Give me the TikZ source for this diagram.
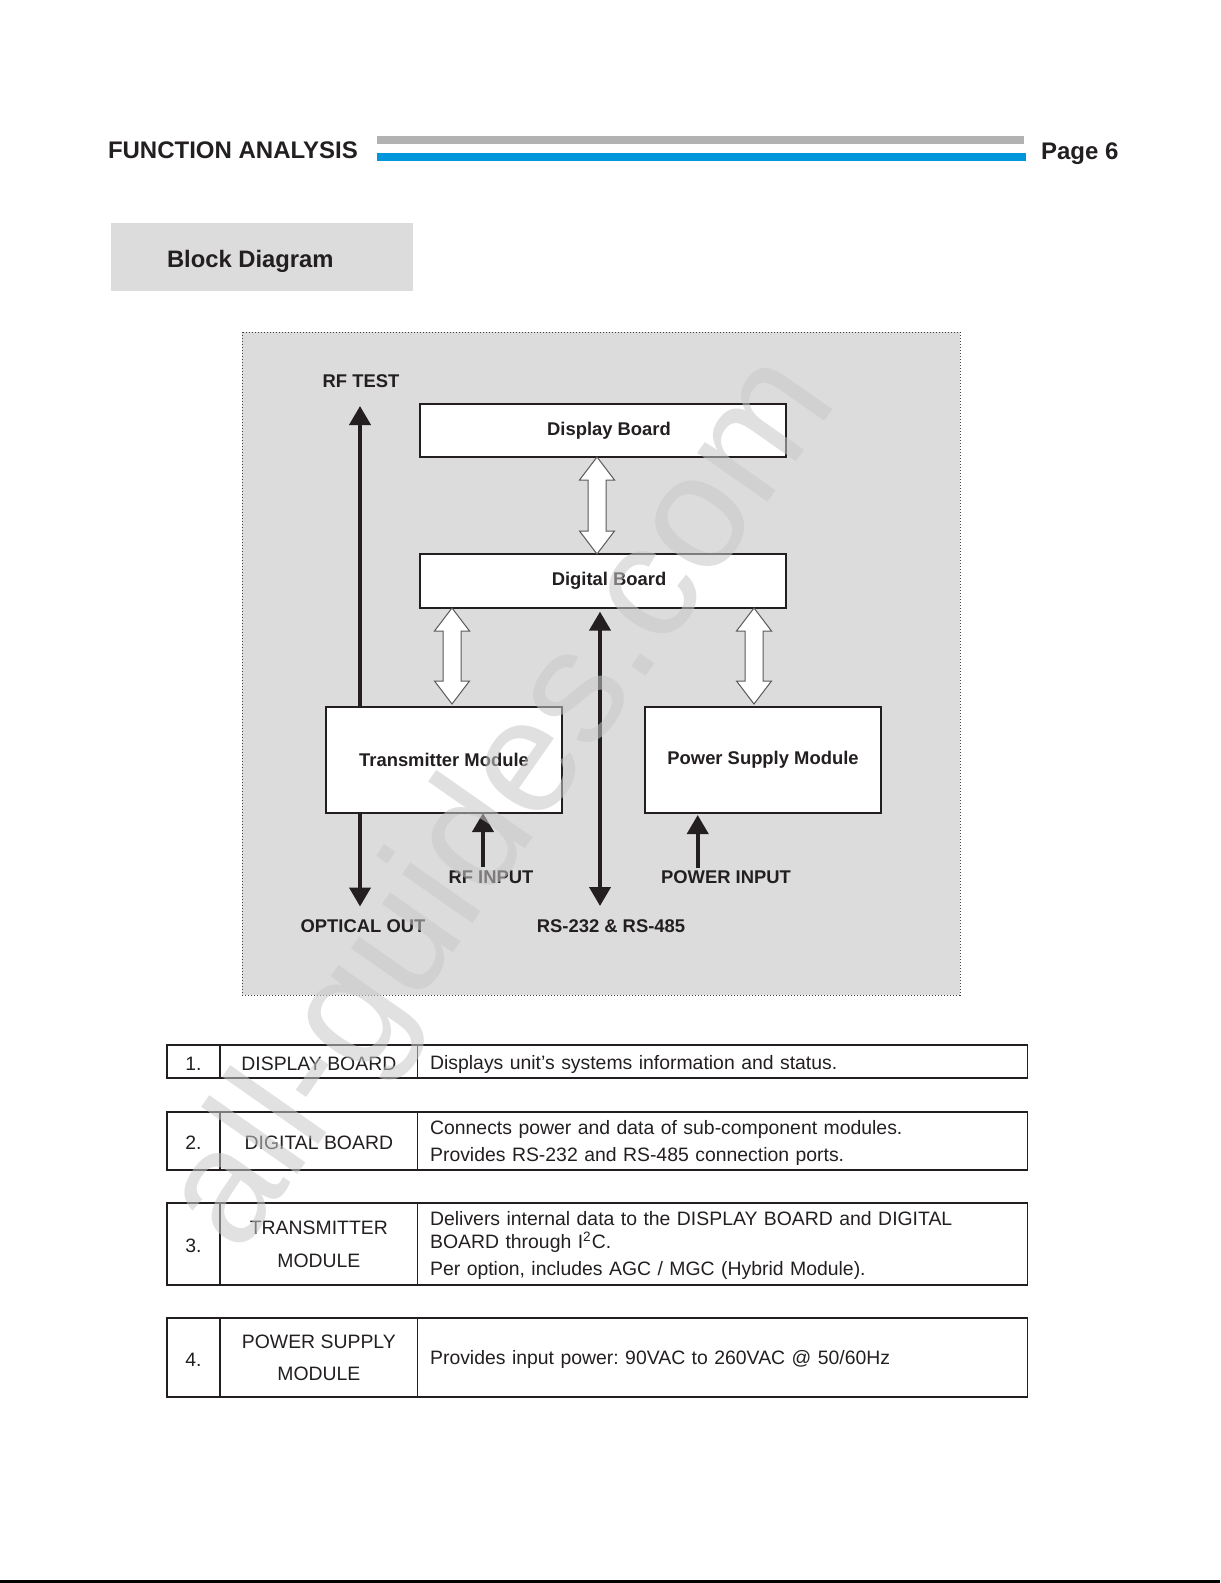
\documentclass[tikz,border=0pt]{standalone}
\usepackage{fontspec}
\setmainfont{Liberation Sans}
\usetikzlibrary{arrows.meta}
\definecolor{bargray}{RGB}{178,178,178}
\definecolor{barblue}{RGB}{0,150,220}
\definecolor{panelgray}{RGB}{220,220,220}
\definecolor{markgray}{RGB}{200,200,200}
\definecolor{ink}{RGB}{35,31,32}
\frenchspacing
\begin{document}
\begin{tikzpicture}[x=0.5pt,y=-0.5pt,every node/.style={inner sep=0,outer sep=0,text=ink},
        block/.style={draw=ink,fill=white,line width=0.6pt,font=\fontsize{9.2}{11}\selectfont\bfseries},
        sig/.style={font=\fontsize{9.2}{11}\selectfont\bfseries},
        wire/.style={draw=ink,line width=2pt,-{Triangle[width=10.5pt,length=9.5pt]}},
        hollow/.style={draw=black!65,fill=white,line width=0.5pt},
        cell/.style={draw=ink,line width=0.6pt,font=\fontsize{9.7}{11.5}\selectfont,align=center,
                execute at begin node={\rule{0pt}{8.9pt}}},
        desc/.style={cell,align=left,text width=292.6pt,inner xsep=6.2pt,minimum width=305pt}]
        \useasboundingbox (0,0) rectangle (1220,1583);
        \node[anchor=base west,font=\fontsize{12}{14}\selectfont\bfseries] (title) at (108,159) {FUNCTION ANALYSIS};
        \node[anchor=base west,font=\fontsize{12}{14}\selectfont\bfseries] (page) at (1041,160) {Page 6};
        \fill[bargray] (377,136) rectangle (1024,144);
        \fill[barblue] (377,153) rectangle (1026,161);
        \node[fill=panelgray,anchor=north west,minimum width=151pt,minimum height=34pt] (bdbox) at (111,223) {};
        \node[anchor=base west,font=\fontsize{11.9}{14}\selectfont\bfseries] (bdtitle) at (167,267.3) {Block Diagram};
        \filldraw[fill=panelgray,draw=black!75,line width=0.4pt,dash pattern=on 0.5pt off 1pt] (242,332) rectangle (960,995);
        \node[block,minimum width=183pt,minimum height=26.5pt] (disp) at (603,430.5) {\hspace*{6pt}Display Board};
        \node[block,minimum width=183pt,minimum height=27pt] (dig) at (603,581) {\hspace*{6pt}Digital Board};
        \node[block,minimum width=118pt,minimum height=53pt] (tx) at (444,760) {Transmitter Module};
        \node[block,minimum width=118pt,minimum height=53pt] (psu) at (763,760) {Power Supply Module};
        \node[sig] (rftest) at (361,381) {RF TEST};
        \node[sig] (optout) at (363,926.5) {OPTICAL OUT};
        \node[sig] (rfin) at (491,877) {RF INPUT};
        \node[sig] (rs) at (611,926.5) {RS-232 \& RS-485};
        \node[sig] (pwrin) at (726,877) {POWER INPUT};
        \coordinate (rftip) at (360,406);
        \coordinate (opttip) at (360,906.5);
        \coordinate (rfintail) at (483,867);
        \coordinate (rsbot) at (600,906);
        \coordinate (pwrtail) at (697.7,868);
        \coordinate (hub) at (597,0);
        \coordinate (txhub) at (452,0);
        \coordinate (psuhub) at (754,0);
        \draw[wire] (tx.north -| rftip) -- (rftip);
        \draw[wire] (tx.south -| opttip) -- (opttip);
        \draw[wire] (rfintail) -- (tx.south -| rfintail);
        \draw[wire,{Triangle[width=10.5pt,length=9.5pt]}-{Triangle[width=10.5pt,length=9.5pt]},shorten <=1.8pt] (dig.south -| rsbot) -- (rsbot);
        \draw[wire,shorten >=1pt] (pwrtail) -- (psu.south -| pwrtail);
        \draw[hollow] (disp.south -| hub) -- ++(17.5,23) -- ++(-8.5,0) -- ++(0,51) -- ++(8.5,0) -- ++(-17.5,23)
                -- ++(-17.5,-23) -- ++(8.5,0) -- ++(0,-51) -- ++(-8.5,0) -- cycle;
        \draw[hollow] (dig.south -| txhub) -- ++(17.5,23) -- ++(-8.5,0) -- ++(0,50) -- ++(8.5,0) -- ++(-17.5,23)
                -- ++(-17.5,-23) -- ++(8.5,0) -- ++(0,-50) -- ++(-8.5,0) -- cycle;
        \draw[hollow] (dig.south -| psuhub) -- ++(17.5,23) -- ++(-8.5,0) -- ++(0,50) -- ++(8.5,0) -- ++(-17.5,23)
                -- ++(-17.5,-23) -- ++(8.5,0) -- ++(0,-50) -- ++(-8.5,0) -- cycle;
        \node[cell,minimum width=26.5pt,minimum height=16.5pt] (n1) at (193.5,1061.5) {1.};
        \node[cell,minimum width=98.85pt,minimum height=16.5pt] (t1) at (318.85,1061.5) {DISPLAY BOARD};
        \node[desc,minimum height=16.5pt,execute at begin node={\rule{0pt}{10.5pt}}] (d1) at (722.7,1061.5) {Displays unit’s systems information and status.};
        \node[cell,minimum width=26.5pt,minimum height=29pt] (n2) at (193.5,1141) {2.};
        \node[cell,minimum width=98.85pt,minimum height=29pt] (t2) at (318.85,1141) {DIGITAL BOARD};
        \node[desc,minimum height=29pt] (d2) at (722.7,1141) {Connects power and data of sub-component modules.\\[1.75pt]Provides RS-232 and RS-485 connection ports.};
        \node[cell,minimum width=26.5pt,minimum height=41pt] (n3) at (193.5,1244) {3.};
        \node[cell,minimum width=98.85pt,minimum height=41pt] (t3) at (318.85,1244) {TRANSMITTER\\[5pt]MODULE};
        \node[desc,minimum height=41pt] (d3) at (722.7,1244) {Delivers internal data to the DISPLAY BOARD and DIGITAL\\BOARD through I\textsuperscript{2}C.\\[2pt]Per option, includes AGC / MGC (Hybrid Module).};
        \node[cell,minimum width=26.5pt,minimum height=39.5pt] (n4) at (193.5,1357.5) {4.};
        \node[cell,minimum width=98.85pt,minimum height=39.5pt] (t4) at (318.85,1357.5) {POWER SUPPLY\\[4.5pt]MODULE};
        \node[desc,minimum height=39.5pt] (d4) at (722.7,1357.5) {Provides input power: 90VAC to 260VAC @ 50/60Hz};
        \fill[black] (0,1580) rectangle (1220,1583);
        \node[rotate=55,font=\fontsize{81}{90}\selectfont,text=markgray,opacity=0.55] (mark) at (505,805) {all-guides.com};
      \end{tikzpicture}
\end{document}
